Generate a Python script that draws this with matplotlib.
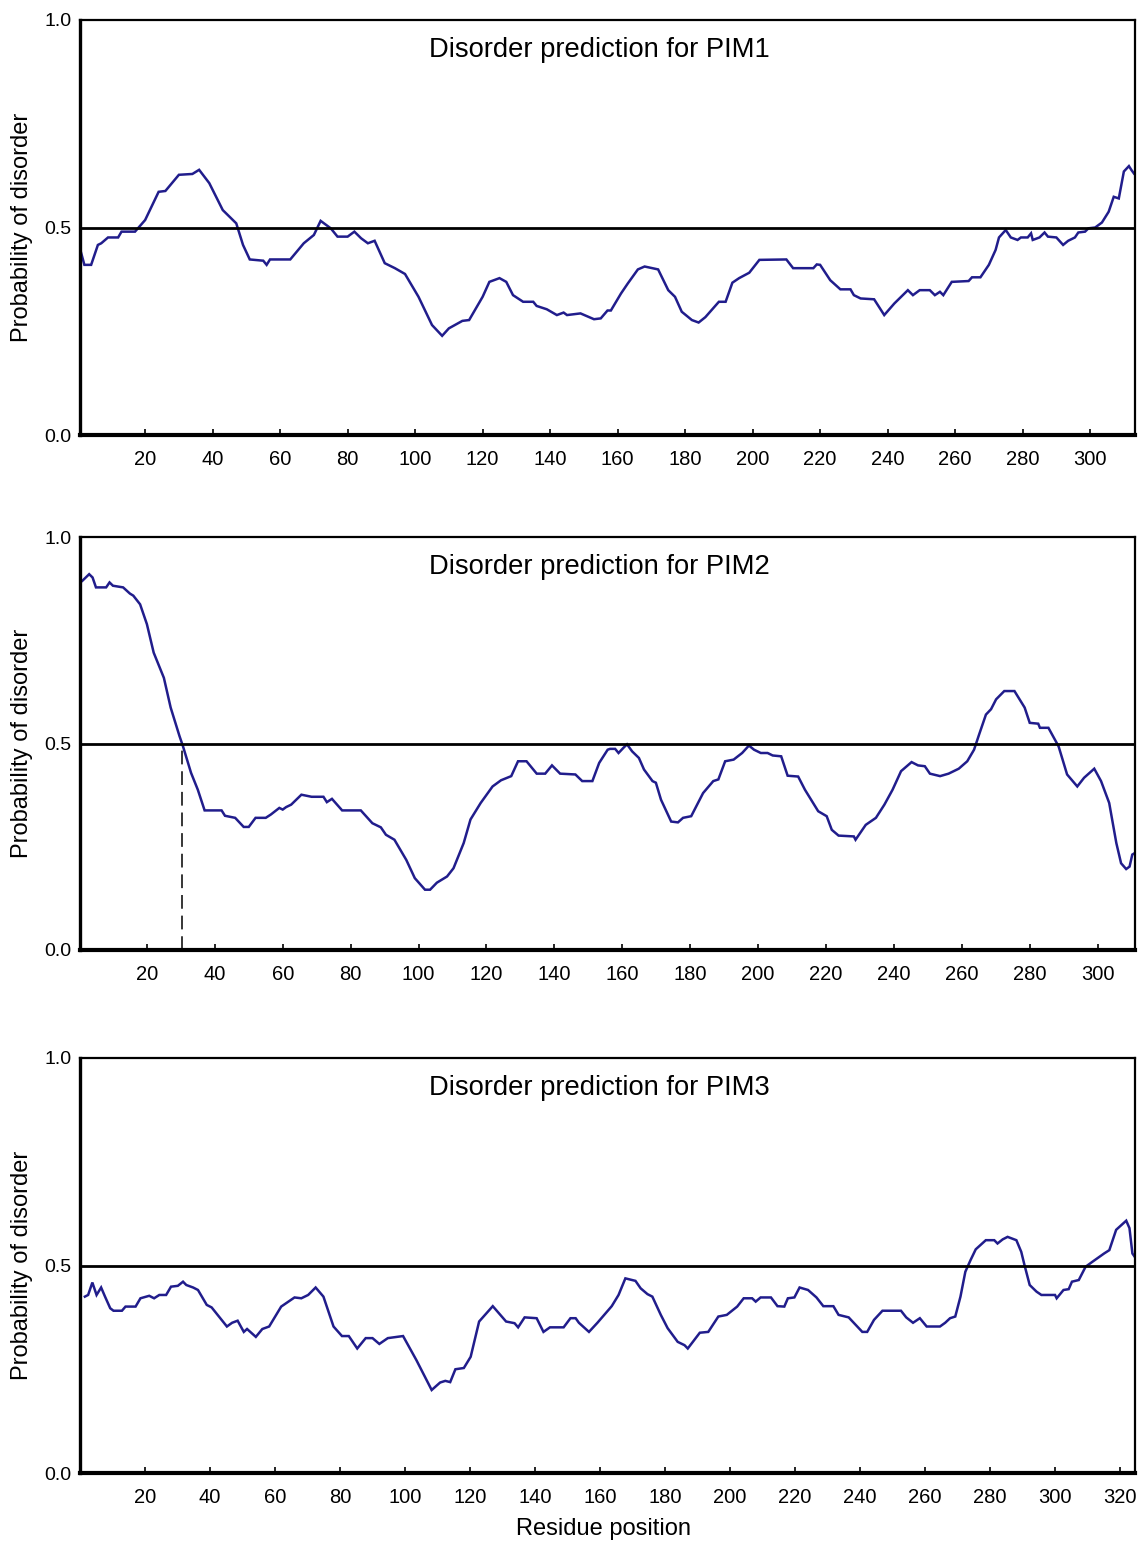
import matplotlib
matplotlib.use("Agg")
import matplotlib.pyplot as plt

# disorder probability per residue
pim1 = [(1, 0.44), (2, 0.41), (4, 0.41), (6, 0.458), (7, 0.462), (9, 0.476), (12, 0.476),
        (13, 0.49), (17, 0.49), (20, 0.518), (24, 0.586), (26, 0.588), (30, 0.627), (34, 0.629),
        (36, 0.639), (39, 0.607), (43, 0.542), (47, 0.51), (49, 0.458), (51, 0.423), (55, 0.42),
        (56, 0.41), (57, 0.423), (63, 0.423), (67, 0.462), (70, 0.482), (72, 0.516), (75, 0.498),
        (77, 0.478), (80, 0.478), (82, 0.49), (84, 0.474), (86, 0.462), (88, 0.468), (91, 0.414),
        (94, 0.402), (97, 0.388), (101, 0.333), (105, 0.265), (108, 0.239), (110, 0.257),
        (114, 0.275), (116, 0.277), (120, 0.333), (122, 0.369), (125, 0.378), (127, 0.369),
        (129, 0.337), (132, 0.321), (135, 0.321), (136, 0.311), (139, 0.303), (142, 0.289),
        (144, 0.295), (145, 0.289), (149, 0.293), (153, 0.279), (155, 0.281), (157, 0.3),
        (158, 0.3), (161, 0.341), (163, 0.365), (166, 0.399), (168, 0.406), (172, 0.399),
        (175, 0.349), (177, 0.333), (179, 0.297), (182, 0.277), (184, 0.271), (186, 0.284),
        (190, 0.321), (192, 0.321), (194, 0.367), (196, 0.378), (199, 0.391), (202, 0.422),
        (210, 0.423), (212, 0.402), (218, 0.402), (219, 0.411), (220, 0.41), (223, 0.373),
        (226, 0.351), (229, 0.351), (230, 0.337), (232, 0.329), (236, 0.327), (239, 0.289),
        (242, 0.317), (246, 0.349), (247.5, 0.337), (249.5, 0.349), (252.5, 0.349), (254, 0.337),
        (255.5, 0.345), (256.5, 0.337), (259, 0.369), (264, 0.371), (265, 0.38), (267.5, 0.38),
        (270, 0.41), (272, 0.446), (273, 0.476), (275, 0.494), (276.5, 0.476), (278.5, 0.47),
        (279.5, 0.476), (281.5, 0.476), (282.5, 0.486), (283, 0.47), (285, 0.476), (286.5, 0.488),
        (287.5, 0.478), (290, 0.476), (292, 0.458), (293.5, 0.468), (295.5, 0.476), (296.5, 0.488),
        (298.5, 0.49), (299.5, 0.498), (301.5, 0.5), (303.5, 0.512), (305.5, 0.538), (307, 0.574),
        (308.5, 0.57), (310, 0.635), (311.5, 0.648), (312.2, 0.639), (313, 0.63)]

pim2 = [(1, 0.894), (3, 0.91), (4, 0.902), (5, 0.878), (8, 0.878), (9, 0.89), (10, 0.882),
        (13, 0.878), (15, 0.863), (16, 0.858), (18, 0.837), (20, 0.789), (22, 0.72), (25, 0.659),
        (27, 0.587), (29.6, 0.518), (30.6, 0.494), (33, 0.429), (35, 0.388), (37, 0.338),
        (42, 0.338), (43, 0.325), (46, 0.32), (48.5, 0.298), (50, 0.298), (52, 0.32), (55, 0.32),
        (56.5, 0.328), (59, 0.344), (60, 0.34), (61, 0.346), (62.5, 0.352), (65.5, 0.376),
        (68.5, 0.371), (72, 0.371), (73, 0.358), (74.5, 0.366), (77.5, 0.338), (83, 0.338),
        (86.4, 0.307), (88.9, 0.297), (90.4, 0.279), (92.9, 0.267), (96.4, 0.218), (98.9, 0.174),
        (101.9, 0.146), (103.4, 0.146), (105.4, 0.163), (108.4, 0.178), (110.3, 0.198),
        (113.3, 0.259), (115.3, 0.316), (118.3, 0.356), (121.8, 0.396), (124.3, 0.411),
        (127.3, 0.421), (129.3, 0.457), (131.8, 0.457), (134.8, 0.427), (137.3, 0.427),
        (139.3, 0.447), (141.7, 0.427), (146.2, 0.425), (148.2, 0.409), (151.2, 0.409),
        (153.2, 0.453), (155.7, 0.485), (156.4, 0.487), (157.9, 0.487), (158.9, 0.477),
        (160.4, 0.49), (161.4, 0.498), (162.9, 0.481), (164.9, 0.465), (166.4, 0.437),
        (168.9, 0.409), (169.9, 0.405), (171.4, 0.364), (174.4, 0.311), (176.4, 0.309),
        (177.9, 0.32), (180.3, 0.324), (183.8, 0.38), (186.8, 0.409), (188.3, 0.413),
        (190.3, 0.457), (192.8, 0.461), (195.3, 0.477), (197.3, 0.495), (198.8, 0.485),
        (200.8, 0.477), (202.8, 0.477), (204.3, 0.471), (206.8, 0.469), (208.7, 0.422),
        (211.8, 0.42), (213.8, 0.388), (217.7, 0.336), (220.2, 0.324), (221.7, 0.291),
        (223.7, 0.277), (228.2, 0.275), (228.7, 0.267), (231.7, 0.303), (234.7, 0.32),
        (237.2, 0.352), (239.6, 0.388), (242.1, 0.433), (245.2, 0.455), (247.1, 0.447),
        (249.1, 0.445), (250.6, 0.427), (253.6, 0.421), (256.1, 0.427), (259.1, 0.439),
        (261.6, 0.457), (263.6, 0.485), (265.1, 0.522), (267.1, 0.57), (268.6, 0.583),
        (270.1, 0.607), (272.5, 0.627), (275.5, 0.627), (278.5, 0.587), (280, 0.55),
        (282.5, 0.548), (283, 0.538), (285.5, 0.538), (288.5, 0.493), (291, 0.425), (294, 0.396),
        (296, 0.417), (299, 0.439), (301, 0.409), (303.4, 0.356), (305.5, 0.259), (306.9, 0.21),
        (308.4, 0.196), (309.4, 0.202), (310.2, 0.231), (311, 0.235)]

pim3 = [(1.5, 0.425), (2.5, 0.429), (3.8, 0.459), (5.1, 0.429), (6.5, 0.447), (7.7, 0.425),
        (9.3, 0.397), (10.3, 0.391), (12.9, 0.391), (14, 0.401), (17.1, 0.401), (18.6, 0.421),
        (21.3, 0.427), (22.8, 0.421), (24.4, 0.429), (26.5, 0.429), (28, 0.449), (30.1, 0.451),
        (31.7, 0.461), (32.7, 0.453), (34.8, 0.447), (36.3, 0.441), (39, 0.405), (40.5, 0.399),
        (45.2, 0.353), (46.8, 0.362), (48.5, 0.367), (50.4, 0.34), (51.4, 0.347), (54.1, 0.328),
        (56.1, 0.347), (58.2, 0.353), (61.9, 0.401), (66, 0.423), (68.1, 0.421), (70.2, 0.429),
        (72.5, 0.447), (74.9, 0.425), (78, 0.353), (80.6, 0.33), (82.7, 0.33), (85.3, 0.3),
        (87.9, 0.325), (90, 0.325), (92.1, 0.311), (94.7, 0.325), (99.4, 0.33), (103.5, 0.272),
        (108.2, 0.2), (110.8, 0.218), (112.4, 0.222), (113.9, 0.219), (115.5, 0.25),
        (118.1, 0.253), (120.2, 0.28), (122.8, 0.365), (127, 0.402), (131.1, 0.365),
        (133.7, 0.361), (134.8, 0.351), (136.8, 0.375), (140.5, 0.373), (142.6, 0.34),
        (144.6, 0.351), (148.8, 0.351), (150.9, 0.373), (152.5, 0.373), (153.5, 0.362),
        (156.6, 0.34), (159.2, 0.362), (161.3, 0.381), (163.6, 0.402), (165.7, 0.429),
        (167.8, 0.469), (170.9, 0.463), (172.5, 0.445), (174.6, 0.431), (176.1, 0.425),
        (178.7, 0.381), (180.8, 0.349), (183.9, 0.316), (186, 0.308), (187, 0.3), (190.7, 0.338),
        (193.3, 0.34), (196.4, 0.377), (199, 0.381), (202.2, 0.401), (204.2, 0.421),
        (206.8, 0.421), (207.9, 0.413), (209.4, 0.423), (212.6, 0.423), (214.6, 0.402),
        (216.7, 0.401), (217.8, 0.421), (219.8, 0.423), (221.4, 0.447), (224, 0.441),
        (226.6, 0.423), (228.7, 0.402), (231.8, 0.402), (233.4, 0.381), (236.5, 0.375),
        (240.7, 0.34), (242.2, 0.34), (244.3, 0.369), (246.9, 0.391), (252.6, 0.391),
        (254.2, 0.375), (256.3, 0.362), (258.4, 0.373), (260.5, 0.353), (264.6, 0.353),
        (266.2, 0.362), (267.7, 0.373), (269.3, 0.377), (270.9, 0.425), (272.4, 0.485),
        (274, 0.513), (275.6, 0.539), (278.7, 0.561), (281.3, 0.561), (282.3, 0.553),
        (283.9, 0.563), (285.4, 0.569), (288.1, 0.561), (289.6, 0.533), (290.6, 0.501),
        (292.2, 0.453), (294.3, 0.437), (295.8, 0.429), (300, 0.429), (300.5, 0.421),
        (302.6, 0.441), (304.2, 0.443), (305.2, 0.461), (307.3, 0.465), (309.4, 0.497),
        (311.5, 0.509), (315.1, 0.529), (316.7, 0.537), (318.8, 0.586), (321.9, 0.608),
        (322.9, 0.59), (323.8, 0.529), (324.6, 0.52)]

names = ["PIM1", "PIM2", "PIM3"]
x_ranges = [(0.7, 313.3), (0.3, 311.0), (0.0, 324.6)]
x_ticks = [list(range(20, 301, 20)), list(range(20, 301, 20)), list(range(20, 321, 20))]
y_ticks = [0.0, 0.5, 1.0]
threshold = 0.5
pim2_cross = 30.4

plt.rcParams['font.family'] = ['Liberation Sans', 'DejaVu Sans']

W, H = 1138, 1541
fig = plt.figure(figsize=(W / 100, H / 100), dpi=100)

# pixel boxes (top, bottom) of each panel
boxes = [(20, 435), (537, 950), (1058, 1473)]
left, right = 80, 1135
line_col = "#211d8c"

for i, data in enumerate([pim1, pim2, pim3]):
    top, bot = boxes[i]
    ax = fig.add_axes([left / W, 1 - bot / H, (right - left) / W, (bot - top) / H])
    xs, ys = zip(*data)

    ax.plot(xs, ys, color=line_col, lw=1.8, solid_joinstyle="miter")
    ax.axhline(threshold, color="black", lw=2.0, zorder=3)
    if names[i] == "PIM2":
        ax.plot([pim2_cross, pim2_cross], [0, threshold], color="black",
                lw=1.1, linestyle=(0, (9, 4.5)))

    ax.set_xlim(*x_ranges[i])
    ax.set_ylim(0, 1)
    ax.set_xticks(x_ticks[i])
    ax.set_yticks(y_ticks)
    ax.set_yticklabels([f"{v:.1f}" for v in y_ticks])
    ax.tick_params(axis="x", direction="in", length=4, width=1.2, pad=11,
                   labelsize=14.5, top=False)
    ax.tick_params(axis="y", length=0, pad=6, labelsize=14)

    ax.spines["left"].set_linewidth(2.4)
    ax.spines["bottom"].set_linewidth(3.0)
    ax.spines["top"].set_linewidth(1.6)
    ax.spines["right"].set_linewidth(1.6)

    ax.set_ylabel("Probability of disorder", fontsize=17)
    ax.yaxis.set_label_coords(-0.045, 0.5)
    ax.text(0.492, 0.928, "Disorder prediction for " + names[i], transform=ax.transAxes,
            ha="center", va="center", fontsize=19.7)

fig.text(603 / W, 1 - 1529 / H, "Residue position", ha="center", va="center", fontsize=17)

fig.savefig("out.png", dpi=100)
